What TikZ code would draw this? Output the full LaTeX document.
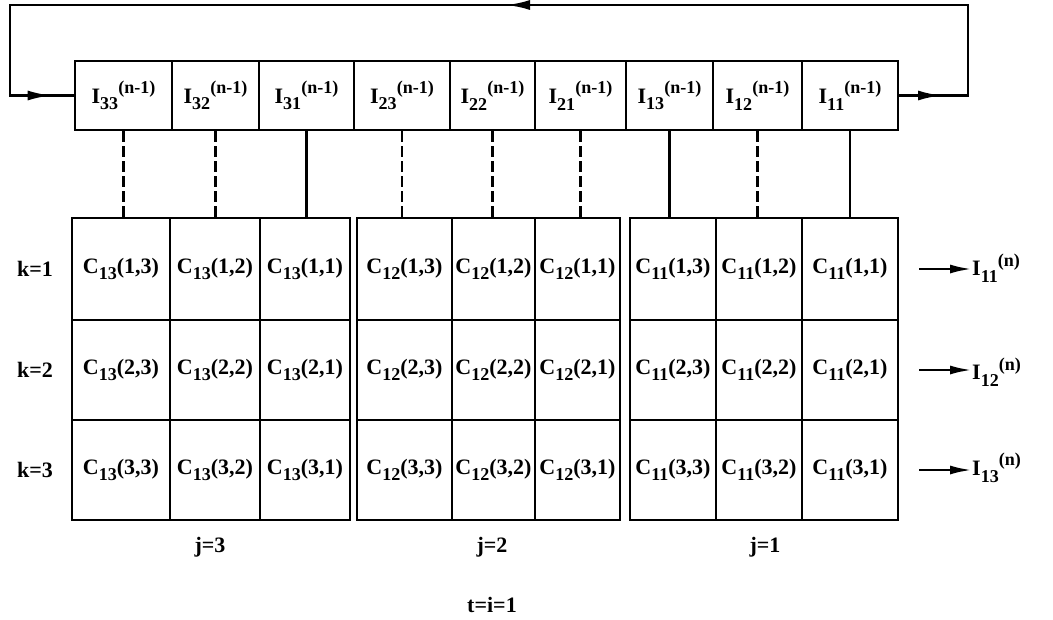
\documentclass[tikz,border=0pt]{standalone}
\usepackage{fontspec}
\setmainfont{Liberation Serif}
\usetikzlibrary{arrows.meta,decorations.markings}

% index helpers: lowered subscript and raised superscript in running text
\newcommand\subtx[1]{\raisebox{-0.30em}{\scalebox{0.82}{#1}}}
\newcommand\suptx[1]{\raisebox{0.45em}{\scalebox{0.82}{#1}}}

\begin{document}
\begin{tikzpicture}[x=1pt,y=-1pt,
  lbl/.style={font=\fontsize{22}{26}\selectfont\bfseries},
  cellbox/.style={draw, line width=2.8pt, inner sep=0pt, lbl},
  tag/.style={lbl, inner sep=0pt},
  solidlink/.style={line width=2.6pt},
  dashlink/.style={line width=2.6pt, dash pattern=on 11pt off 4pt},
  loopline/.style={line width=2.8pt, line join=miter},
  looptip/.style={-{Latex[length=24pt,width=10pt]}},
  outarr/.style={line width=2.6pt, -{Latex[length=22pt,width=9pt]}}
]
\useasboundingbox (0,0) rectangle (1053,619);

% shift register of previous currents
\foreach \nm/\a/\b/\t in {I33/75/172/33, I32/172/259/32, I31/259/354/31,
                          I23/354/450/23, I22/450/535/22, I21/535/626/21,
                          I13/626/713/13, I12/713/802/12, I11/802/898/11} {
  \pgfmathsetmacro\w{\b-\a}
  \pgfmathsetmacro\cx{(\a+\b)/2}
  \node[cellbox, minimum width=\w pt, minimum height=69pt] (\nm) at (\cx,95.5)
    {I\subtx{\t}\suptx{(n-1)}};
}

% coefficient arrays, one per j
\foreach \g/\pa/\pb/\pc/\pd in {13/72/170/260/350, 12/357/452/535/620, 11/630/716/802/898} {
  \foreach \k/\ya/\yb in {1/218/320, 2/320/420, 3/420/520} {
    \foreach \m/\xa/\xb in {3/\pa/\pb, 2/\pb/\pc, 1/\pc/\pd} {
      \pgfmathsetmacro\w{\xb-\xa}
      \pgfmathsetmacro\h{\yb-\ya}
      \pgfmathsetmacro\cx{(\xa+\xb)/2}
      \pgfmathsetmacro\cy{(\ya+\yb)/2}
      \node[cellbox, minimum width=\w pt, minimum height=\h pt] (c\g-\k-\m) at (\cx,\cy)
        {C\subtx{\g}(\k,\m)};
    }
  }
}

% links from register to arrays
\coordinate (gtop) at (0,218);
\foreach \nm in {I33,I32,I23,I22,I21,I12}
  \draw[dashlink] (\nm.south) -- (\nm.south |- gtop);
\foreach \nm in {I31,I13,I11}
  \draw[solidlink] (\nm.south) -- (\nm.south |- gtop);

% feedback loop
\coordinate (rc) at (968,95.5);
\coordinate (rt) at (968,5);
\coordinate (lt) at (10,5);
\coordinate (lc) at (10,95.5);
\draw[loopline] (I11.east) -- (rc) -- (rt) -- (lt) -- (lc) -- (I33.west);
\draw[loopline, looptip] (I11.east) -- ([xshift=-26pt]rc);
\draw[loopline, looptip] (rt) -- ([xshift=-462pt]rt);
\draw[loopline, looptip] (lc) -- ([xshift=-22pt]I33.west);

% row labels
\node[tag] (k1) at (35,269) {k=1};
\node[tag] (k2) at (35,370) {k=2};
\node[tag] (k3) at (35,470) {k=3};

% outputs
\node[tag, anchor=west] (o1) at (972,268) {I\subtx{11}\suptx{(n)}};
\node[tag, anchor=west] (o2) at (972,372) {I\subtx{12}\suptx{(n)}};
\node[tag, anchor=west] (o3) at (972,468) {I\subtx{13}\suptx{(n)}};
\coordinate (s1) at ([xshift=20pt]c11-1-1.east);
\coordinate (s2) at ([xshift=20pt]c11-2-1.east);
\coordinate (s3) at ([xshift=20pt]c11-3-1.east);
\draw[outarr] (s1) -- (s1 -| o1.west);
\draw[outarr] (s2) -- (s2 -| o2.west);
\draw[outarr] (s3) -- (s3 -| o3.west);

% group labels
\node[tag] (j3) at (210,547) {j=3};
\node[tag] (j2) at (492,547) {j=2};
\node[tag] (j1) at (765,547) {j=1};
\node[tag] (ti) at (492,605) {t=i=1};
\end{tikzpicture}
\end{document}
